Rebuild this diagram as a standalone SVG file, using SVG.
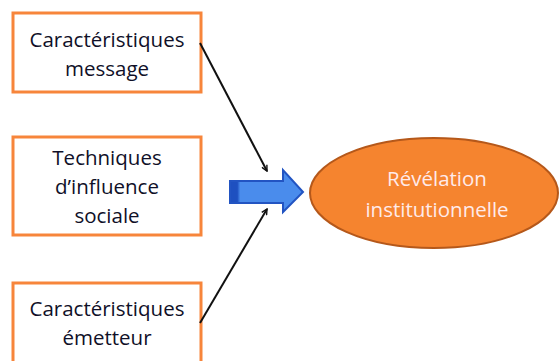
<svg xmlns="http://www.w3.org/2000/svg" width="559" height="361" viewBox="0 0 559 361">
<style>
.box{fill:#ffffff;stroke:#F7853B;stroke-width:3}
.bt{font-family:"Open Sans","Liberation Sans",sans-serif;font-size:20.5px;fill:#101028;text-anchor:middle}
.et{font-family:"Open Sans","Liberation Sans",sans-serif;font-size:20.5px;fill:#FFEAEA;text-anchor:middle}
.conn{stroke:#111111;stroke-width:2;fill:none}
</style>
<defs>
<marker id="ah" viewBox="0 0 10 10" refX="9" refY="5" markerWidth="7" markerHeight="7" markerUnits="userSpaceOnUse" orient="auto">
<path d="M1,1 L9,5 L1,9" fill="none" stroke="#111111" stroke-width="2"/>
</marker>
<linearGradient id="bg" x1="0" y1="0" x2="1" y2="0">
<stop offset="0" stop-color="#1E50C0"/>
<stop offset="0.1" stop-color="#1E50C0"/>
<stop offset="0.14" stop-color="#4A8CEC"/>
<stop offset="1" stop-color="#4A8CEC"/>
</linearGradient>
</defs>
<g id="node-message">
<rect class="box" x="13" y="13" width="188" height="79"/>
<text class="bt" x="107" y="47">Caractéristiques</text>
<text class="bt" x="107" y="76">message</text>
</g>
<g id="node-techniques">
<rect class="box" x="13" y="137" width="188" height="98"/>
<text class="bt" x="107" y="165">Techniques</text>
<text class="bt" x="107" y="194">d’influence</text>
<text class="bt" x="107" y="223">sociale</text>
</g>
<g id="node-emetteur">
<rect class="box" x="13" y="283" width="188" height="90"/>
<text class="bt" x="107" y="316">Caractéristiques</text>
<text class="bt" x="107" y="345">émetteur</text>
</g>
<g id="node-revelation">
<ellipse cx="434" cy="193" rx="124" ry="55" fill="#F5842F" stroke="#B5581A" stroke-width="2"/>
<text class="et" x="437" y="186">Révélation</text>
<text class="et" x="437" y="217">institutionnelle</text>
</g>
<g id="connectors">
<line class="conn" x1="200" y1="43" x2="267" y2="171" marker-end="url(#ah)"/>
<line class="conn" x1="200" y1="323" x2="267" y2="209" marker-end="url(#ah)"/>
<path d="M230,181 L283,181 L283,170 L303,192 L283,212 L283,203 L230,203 Z" fill="url(#bg)" stroke="#2254C2" stroke-width="2" stroke-linejoin="miter"/>
</g>
</svg>
